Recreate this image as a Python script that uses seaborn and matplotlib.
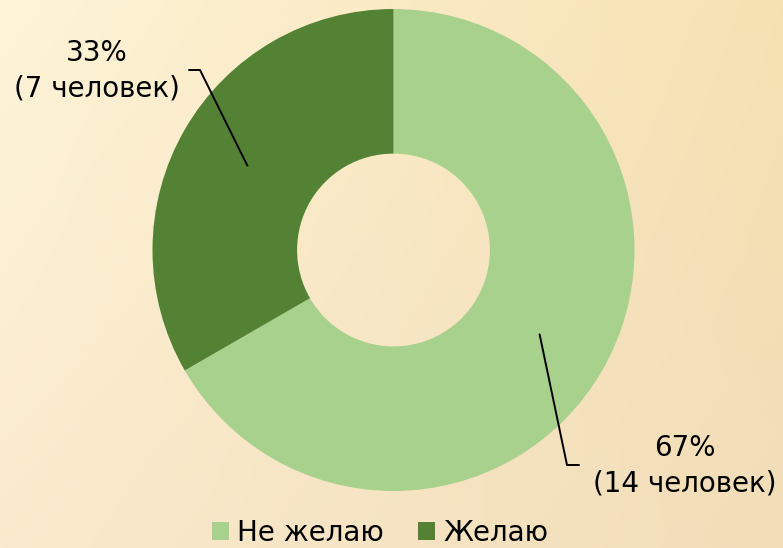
import numpy as np
import seaborn as sns
import matplotlib.pyplot as plt

# data
categories = ["Не желаю", "Желаю"]
counts = [14, 7]
colors = ["#A9D18E", "#548235"]

sns.set_theme(style="white")
plt.rcParams["font.family"] = ["DejaVu Sans"]
plt.rcParams["text.color"] = "black"

W, H = 783, 548
fig = plt.figure(figsize=(W / 100, H / 100), dpi=100)
ax = fig.add_axes([0, 0, 1, 1])

# cream-to-tan background gradient
tl = np.array([254, 244, 216]) / 255
tr = np.array([246, 225, 178]) / 255
bl = np.array([250, 234, 205]) / 255
br = np.array([241, 221, 184]) / 255
u = np.linspace(0, 1, 200)[None, :, None]
v = np.linspace(0, 1, 140)[:, None, None]
grad = (1 - v) * ((1 - u) * tl + u * tr) + v * ((1 - u) * bl + u * br)
ax.imshow(grad, extent=(0, W, 0, H), origin="upper", aspect="auto", zorder=0)

# donut
cx, cy, R = 393.5, 298, 241
wedges, _ = ax.pie(counts, colors=colors, startangle=90, counterclock=False,
                   center=(cx, cy), radius=R,
                   wedgeprops=dict(width=R * 0.6, linewidth=0))
for w in wedges:
    w.set_zorder(2)

# labels with leader lines
total = sum(counts)
label_pos = [(685, 82, -1), (97, 477, 1)]  # text centre, side of elbow
for w, n, (tx, ty, side) in zip(wedges, counts, label_pos):
    ang = np.deg2rad((w.theta1 + w.theta2) / 2)
    px = cx + 0.7 * R * np.cos(ang)
    py = cy + 0.7 * R * np.sin(ang)
    pct = round(100 * n / total)
    ax.text(tx, ty, f"{pct}%\n({n} человек)", ha="center", va="center",
            fontsize=20, color="black", zorder=4, linespacing=1.35)
    if side > 0:
        ex0, ex1 = 189, 200
    else:
        ex0, ex1 = 579, 567
    ax.plot([ex0, ex1, px], [ty + 1, ty + 1, py], color="black", lw=1.4, zorder=3)

ax.set_xlim(0, W)
ax.set_ylim(0, H)
ax.set_axis_off()

ax.legend(wedges, categories, loc="center", bbox_to_anchor=(380 / W, 15 / H),
          ncol=2, frameon=False, fontsize=20, handlelength=0.62, handleheight=0.62,
          handletextpad=0.3, columnspacing=1.2, borderpad=0, borderaxespad=0,
          labelcolor="black")

fig.savefig("out.png", dpi=100)
